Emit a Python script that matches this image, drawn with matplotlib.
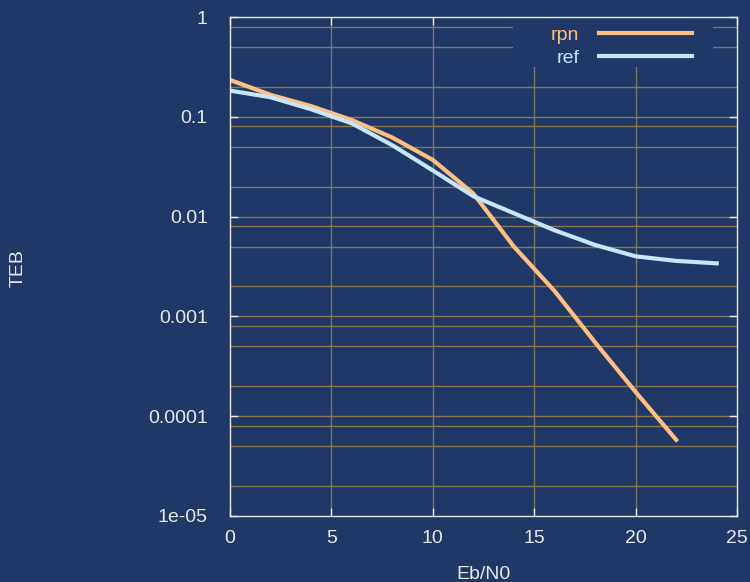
import numpy as np
import matplotlib
matplotlib.use("Agg")
import matplotlib.pyplot as plt
from matplotlib.patches import Rectangle

# data
ebn0_rpn = [0, 2, 4, 6, 8, 10, 12, 14, 16, 18, 20, 22]
teb_rpn = [0.234, 0.166, 0.128, 0.093, 0.062, 0.037, 0.017, 0.0050, 0.0018, 0.00055, 0.000175, 0.000058]
ebn0_ref = [0, 2, 4, 6, 8, 10, 12, 14, 16, 18, 20, 22, 24]
teb_ref = [0.183, 0.157, 0.119, 0.086, 0.052, 0.029, 0.016, 0.0108, 0.0073, 0.0052, 0.0040, 0.0036, 0.0034]

x_ticks = [0, 5, 10, 15, 20, 25]
y_ticks = [1, 0.1, 0.01, 0.001, 0.0001, 0.00001]
y_labels = ["1", "0.1", "0.01", "0.001", "0.0001", "1e-05"]

bg = "#1f3868"
fg = "#e8e8e8"
hgrid_col = "#8a7850"
vgrid_col = "#7e7866"
c_rpn = "#ffbf80"
c_ref = "#c4e6ff"

plt.rcParams['font.family'] = ['Liberation Sans', 'DejaVu Sans']

fig = plt.figure(figsize=(7.5, 5.82), dpi=100, facecolor=bg)
ax = fig.add_axes([230/750, 1-516/582, (737-230)/750, (516-17)/582])
ax.set_facecolor(bg)

ax.set_yscale("log")
ax.set_xlim(0, 25)
ax.set_ylim(1e-5, 1)

# grid: vertical at x ticks, horizontal at 1,2,5,8 x 10^k
for xv in x_ticks[1:-1]:
    ax.axvline(xv, color=vgrid_col, lw=1, zorder=1)
for k in range(-5, 1):
    for m in [1, 2, 5, 8]:
        yv = m * 10.0**k
        if 1e-5 < yv < 1:
            ax.axhline(yv, color=hgrid_col, lw=1, zorder=1)

# legend area hides the grid
ax.add_patch(Rectangle((0.558, 0.900), 0.395, 0.1, transform=ax.transAxes,
                       facecolor=bg, edgecolor="none", zorder=2))

ax.plot(ebn0_rpn, teb_rpn, color=c_rpn, lw=3, label="rpn", zorder=3)
ax.plot(ebn0_ref, teb_ref, color=c_ref, lw=3, label="ref", zorder=3)

ax.set_xticks(x_ticks)
ax.set_yticks(y_ticks)
ax.set_yticklabels(y_labels)
ax.minorticks_off()
ax.tick_params(colors=fg, labelcolor=fg, direction="in", length=6, width=1,
               labelsize=14, top=True, right=True)
ax.tick_params(axis="y", pad=16)
ax.tick_params(axis="x", pad=10)
for s in ax.spines.values():
    s.set_color(fg)
    s.set_linewidth(1)
    s.set_zorder(5)

ax.set_xlabel("Eb/N0", color=fg, fontsize=14, labelpad=14)
ax.set_ylabel("TEB", color=fg, fontsize=14, va="center")
ax.yaxis.set_label_coords(-0.418, 0.497)

leg = ax.legend(loc="upper right", bbox_to_anchor=(0.946, 1.017), frameon=False,
                fontsize=14, markerfirst=False, handlelength=4.8, labelspacing=0.3,
                borderpad=0.4, handletextpad=1.0)
leg.set_zorder(4)
for txt, col in zip(leg.get_texts(), [c_rpn, c_ref]):
    txt.set_color(col)

fig.savefig("out.png", dpi=100, facecolor=bg)
